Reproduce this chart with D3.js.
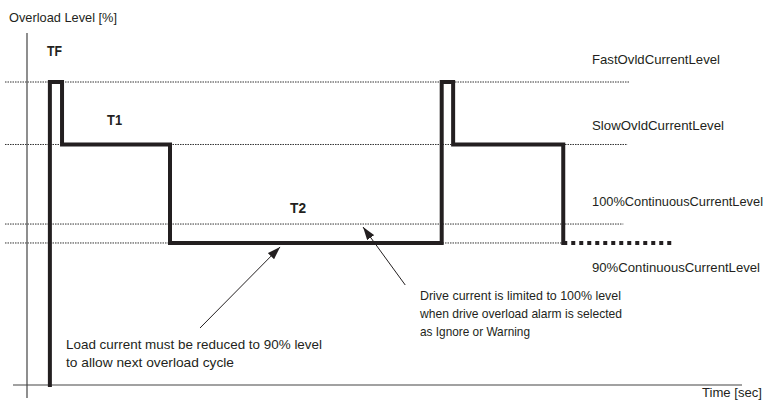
<!DOCTYPE html>
<html>
<head>
<meta charset="utf-8">
<script src="https://cdn.jsdelivr.net/npm/d3@7/dist/d3.min.js"></script>
<style>
  html, body { margin: 0; padding: 0; background: #fff; }
  svg text { font-family: "Liberation Sans", Arial, sans-serif; fill: #231f20; }
</style>
</head>
<body>
<svg id="chart" width="771" height="403"></svg>
<script>
// ---- data ----
const levelNames = ["FastOvldCurrentLevel", "SlowOvldCurrentLevel", "100%ContinuousCurrentLevel", "90%ContinuousCurrentLevel"];
const levelValues = [175, 142, 100, 90];
const levelLineEnd = [84.3, 84.0, 83.4, 75.0];
const stepTimes  = [3.2, 3.2, 4.9, 4.9, 20, 20, 58, 58, 59.6, 59.6, 75, 75];
const stepLevels = [15, 175, 175, 142, 142, 90, 90, 175, 175, 142, 142, 90];
const tailTimes = [75, 90.6];
const tailLevels = [90, 90];
const phaseLabels = ["TF", "T1", "T2"];
const phaseTimes = [2.8, 11.2, 36.8];
const phaseLevels = [188.5, 152.5, 106];

const svg = d3.select("#chart");
const x = d3.scaleLinear().domain([0, 100]).range([27, 742]);
const y = d3.scaleLinear().domain([15, 175]).range([385, 82]);

function txt(s, px, py, w, opts = {}) {
  const t = svg.append("text").attr("x", px).attr("y", py)
    .attr("font-size", opts.size || 13.5).text(s);
  if (opts.bold) t.attr("font-weight", "bold");
  if (opts.anchor) t.attr("text-anchor", opts.anchor);
  if (w) t.attr("textLength", w).attr("lengthAdjust", "spacingAndGlyphs");
  return t;
}

// arrow marker
svg.append("defs").append("marker")
  .attr("id", "arr").attr("viewBox", "0 0 12 8").attr("refX", 12).attr("refY", 4)
  .attr("markerWidth", 13).attr("markerHeight", 9).attr("markerUnits", "userSpaceOnUse")
  .attr("orient", "auto")
  .append("path").attr("d", "M0,0 L12,4 L0,8 z").attr("fill", "#231f20");

// reference dotted lines
levelValues.forEach((v, i) => {
  svg.append("line")
    .attr("x1", 5).attr("x2", x(levelLineEnd[i]))
    .attr("y1", y(v)).attr("y2", y(v))
    .attr("stroke", "#333").attr("stroke-width", 1).attr("stroke-dasharray", "1.5,1");
});

// axes
svg.append("line").attr("x1", x(0)).attr("x2", x(0)).attr("y1", 33).attr("y2", 398)
  .attr("stroke", "#444").attr("stroke-width", 1.2);
svg.append("line").attr("x1", 13).attr("x2", x(100)).attr("y1", y(15)).attr("y2", y(15))
  .attr("stroke", "#444").attr("stroke-width", 1.2);

// step line
const line = d3.line().x((d, i) => x(stepTimes[i])).y((d, i) => y(stepLevels[i]));
svg.append("path").datum(stepTimes).attr("d", line)
  .attr("fill", "none").attr("stroke", "#231f20").attr("stroke-width", 4)
  .attr("stroke-linejoin", "miter").attr("stroke-linecap", "square");

const tail = d3.line().x((d, i) => x(tailTimes[i])).y((d, i) => y(tailLevels[i]));
svg.append("path").datum(tailTimes).attr("d", tail)
  .attr("fill", "none").attr("stroke", "#231f20").attr("stroke-width", 4)
  .attr("stroke-dasharray", "4,4");

// phase labels
const phaseWidths = [15, 15, 16];
phaseLabels.forEach((t, i) => {
  txt(t, x(phaseTimes[i]), y(phaseLevels[i]), phaseWidths[i], { bold: true, size: 14 });
});

// level labels
const labelY = [64, 130, 206, 272];
const labelW = [128, 132, 171, 168];
levelNames.forEach((n, i) => txt(n, 592, labelY[i], labelW[i]));

// axis titles
txt("Overload Level [%]", 9, 22, 108);
txt("Time [sec]", 702, 397, 60);

// annotations
const annA = ["Load current must be reduced to 90% level", "to allow next overload cycle"];
const annAW = [256, 168];
annA.forEach((t, i) => txt(t, 66, 349 + i * 18, annAW[i]));
const annB = ["Drive current is limited to 100% level", "when drive overload alarm is selected", "as Ignore or Warning"];
const annBW = [201, 202, 110];
annB.forEach((t, i) => txt(t, 420, 300 + i * 18, annBW[i]));

// arrows
const arrows = [
  { t0: 24.2, l0: 45.1, t1: 35.4, l1: 87.9 },
  { t0: 52.9, l0: 67.8, t1: 47.0, l1: 98.4 }
];
arrows.forEach(a => {
  svg.append("line").attr("x1", x(a.t0)).attr("y1", y(a.l0)).attr("x2", x(a.t1)).attr("y2", y(a.l1))
    .attr("stroke", "#231f20").attr("stroke-width", 1).attr("marker-end", "url(#arr)");
});
</script>
</body>
</html>
